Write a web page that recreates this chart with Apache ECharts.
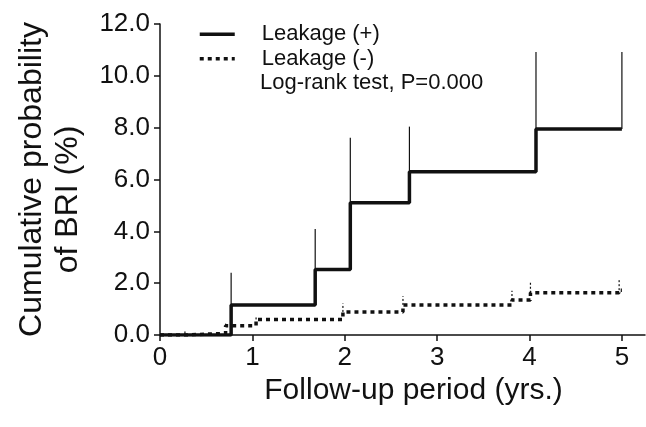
<!DOCTYPE html>
<html>
<head>
<meta charset="utf-8">
<script src="https://cdn.jsdelivr.net/npm/echarts@6/dist/echarts.min.js"></script>
<style>html,body{margin:0;padding:0;background:#fff}#c{width:646px;height:427px}</style>
</head>
<body>
<div id="c"></div>
<script>
// Leakage (+): step times (yrs) and cumulative probability (%) after each step
const timesPos = [0, 0.77, 1.68, 2.06, 2.70, 4.07, 5.0];
const probPos  = [0, 1.16, 2.53, 5.1, 6.3, 7.95, 7.95];
// upper confidence bars for Leakage (+)
const ciTimesPos = [0.77, 1.68, 2.06, 2.70, 4.07, 5.0];
const ciUpperPos = [2.4, 4.09, 7.61, 8.04, 10.92, 10.92];

// Leakage (-)
const timesNeg = [0, 0.27, 0.71, 1.04, 1.98, 2.63, 3.81, 4.01, 4.97, 5.0];
const probNeg  = [0, 0.06, 0.36, 0.6, 0.89, 1.16, 1.35, 1.63, 1.73, 1.73];
const ciTimesNeg = [0.27, 0.71, 1.04, 1.98, 2.63, 3.81, 4.01, 4.97];
const ciUpperNeg = [0.2, 0.48, 0.7, 1.22, 1.5, 1.71, 2.02, 2.15];

const xTicks = [0, 1, 2, 3, 4, 5];
const seriesNames = ['Leakage (+)', 'Leakage (-)'];
const noteText = 'Log-rank test, P=0.000';

function stepAt(times, probs, t) {
  let v = probs[0];
  for (let i = 0; i < times.length; i++) if (times[i] <= t + 1e-9) v = probs[i];
  return v;
}
function pairs(xs, ys) { return xs.map((x, i) => [x, ys[i]]); }
function ciData(ct, cu, times, probs) { return ct.map((t, i) => [t, stepAt(times, probs, t), cu[i]]); }

const FONT = '"Liberation Sans", Arial, sans-serif';
const INK = '#111';

function barRender(dash) {
  return function (params, api) {
    const p0 = api.coord([api.value(0), api.value(1)]);
    const p1 = api.coord([api.value(0), api.value(2)]);
    return { type: 'line', shape: { x1: p0[0], y1: p0[1], x2: p1[0], y2: p1[1] },
      style: { stroke: INK, lineWidth: 1.2, lineDash: dash } };
  };
}

const chart = echarts.init(document.getElementById('c'), null, { renderer: 'canvas' });
chart.setOption({
  animation: false,
  backgroundColor: '#fff',
  textStyle: { fontFamily: FONT, color: INK },
  grid: { left: 160, right: 1, top: 24, bottom: 92, containLabel: false, outerBoundsMode: 'none' },
  title: {
    text: noteText, left: 260, top: 72, padding: 0,
    textStyle: { fontFamily: FONT, fontSize: 22, fontWeight: 'normal', color: INK }
  },
  legend: {
    data: seriesNames, orient: 'vertical', left: 198, top: 22, padding: 0,
    itemWidth: 35, itemHeight: 14, itemGap: 0,
    itemStyle: { opacity: 0 },
    lineStyle: { width: 3.5 },
    textStyle: { fontFamily: FONT, fontSize: 22, color: INK, lineHeight: 24.5, padding: [0, 0, 0, 22] }
  },
  xAxis: {
    type: 'value', min: 0, max: 5.25, interval: 1,
    name: 'Follow-up period (yrs.)', nameLocation: 'middle', nameGap: 26,
    nameTextStyle: { fontFamily: FONT, fontSize: 30, color: INK, padding: [0, 0, 0, 22] },
    axisLine: { lineStyle: { color: INK, width: 1.5 } },
    axisTick: { show: true, length: 6, customValues: xTicks, lineStyle: { color: INK, width: 1.5 } },
    axisLabel: { customValues: xTicks, margin: 10, fontSize: 26, fontFamily: FONT, color: INK },
    splitLine: { show: false }
  },
  yAxis: {
    type: 'value', min: 0, max: 12, interval: 2,
    name: '{a|Cumulative probability}\n{b|of BRI (%)}',
    nameLocation: 'middle', nameRotate: 90, nameGap: 74,
    nameTextStyle: {
      fontFamily: FONT, fontSize: 32, color: INK, lineHeight: 36,
      rich: { a: { fontFamily: FONT, fontSize: 32, color: INK, lineHeight: 36 },
              b: { fontFamily: FONT, fontSize: 32, color: INK, lineHeight: 36, padding: [0, 40, 0, 0] } }
    },
    axisLine: { show: true, lineStyle: { color: INK, width: 1.5 } },
    axisTick: { show: true, length: 6, lineStyle: { color: INK, width: 1.5 } },
    axisLabel: { margin: 10, fontSize: 26, fontFamily: FONT, color: INK, formatter: v => v.toFixed(1) },
    splitLine: { show: false }
  },
  series: [
    { name: seriesNames[0], type: 'line', step: 'end', data: pairs(timesPos, probPos),
      symbol: 'none', lineStyle: { color: INK, width: 3.5 }, itemStyle: { color: INK }, z: 3 },
    { name: seriesNames[1], type: 'line', step: 'end', data: pairs(timesNeg, probNeg),
      symbol: 'none', lineStyle: { color: INK, width: 3.5, type: [4, 4] }, itemStyle: { color: INK }, z: 4 },
    { name: 'ciPos', type: 'custom', data: ciData(ciTimesPos, ciUpperPos, timesPos, probPos),
      encode: { x: 0, y: [1, 2] }, renderItem: barRender(null), z: 2 },
    { name: 'ciNeg', type: 'custom', data: ciData(ciTimesNeg, ciUpperNeg, timesNeg, probNeg),
      encode: { x: 0, y: [1, 2] }, renderItem: barRender([2, 2]), z: 2 }
  ]
});
</script>
</body>
</html>
